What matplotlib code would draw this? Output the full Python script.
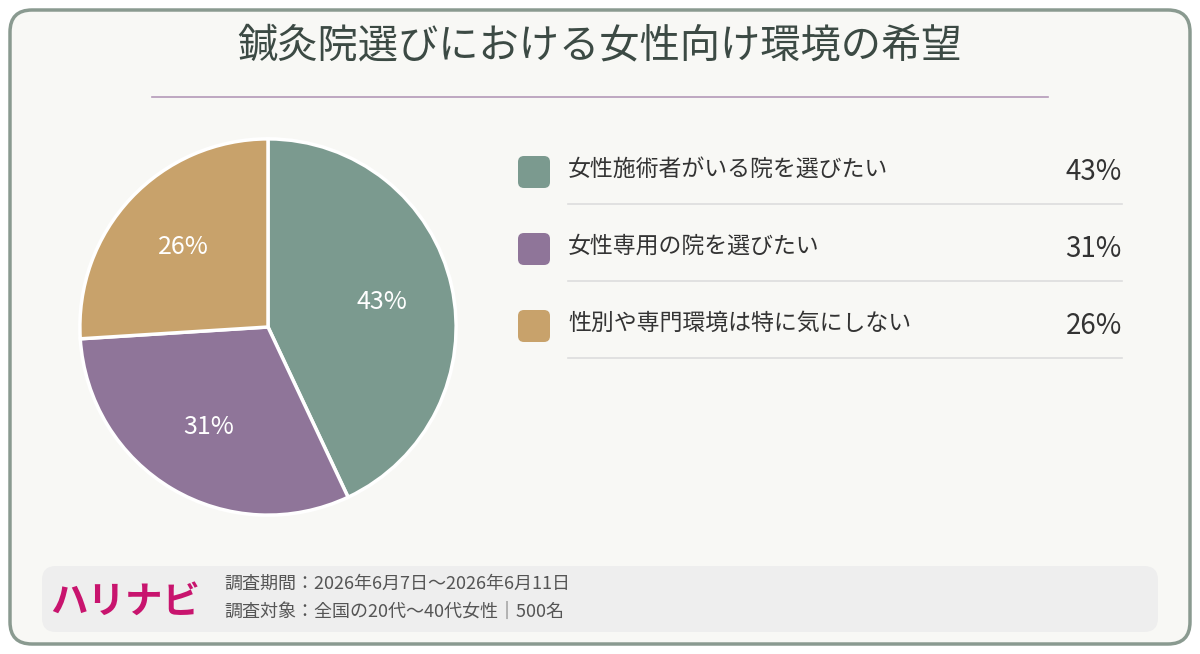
import matplotlib
matplotlib.use('Agg')
import matplotlib.pyplot as plt
import numpy as np
from matplotlib.patches import FancyBboxPatch

plt.rcParams['font.family'] = ['Noto Sans CJK JP', 'DejaVu Sans']

# ── data ──
title = '鍼灸院選びにおける女性向け環境の希望'
labels = ['女性施術者がいる院を選びたい', '女性専用の院を選びたい', '性別や専門環境は特に気にしない']
values = [43, 31, 26]
colors = ['#7b9a8f', '#8f7599', '#c8a26b']
footer_lines = ['調査期間：2026年6月7日～2026年6月11日', '調査対象：全国の20代～40代女性｜500名']
brand = 'ハリナビ'

W, H = 1200, 654
fig = plt.figure(figsize=(W / 100, H / 100), dpi=100)
fig.patch.set_facecolor('white')
bg = fig.add_axes([0, 0, 1, 1])
bg.set_xlim(0, W)
bg.set_ylim(H, 0)
bg.axis('off')

# card frame
bg.add_patch(FancyBboxPatch((10, 10), W - 20, H - 20, boxstyle='round,pad=0,rounding_size=22',
                            facecolor='#f8f8f5', edgecolor='#8a9a90', linewidth=2.5))
bg.text(W / 2, 46, title, ha='center', va='center', fontsize=29, color='#3c4a44')
bg.plot([152, 1048], [97, 97], color='#b49ab8', linewidth=1.2)

# legend rows
for i, (lab, v, c) in enumerate(zip(labels, values, colors)):
    y = 172 + i * 77
    bg.add_patch(FancyBboxPatch((518, y - 16), 32, 32, boxstyle='round,pad=0,rounding_size=6',
                                facecolor=c, edgecolor='none'))
    bg.text(568, y - 3, lab, ha='left', va='center', fontsize=16.5, color='#333333')
    bg.text(1122, y, f'{v}%', ha='right', va='center', fontsize=20, color='#333333')
    bg.plot([568, 1122], [y + 32, y + 32], color='#dddddd', linewidth=1.2)

# footer
bg.add_patch(FancyBboxPatch((42, 566), 1116, 66, boxstyle='round,pad=0,rounding_size=14',
                            facecolor='#eeeeee', edgecolor='none'))
bg.text(50, 601, brand, ha='left', va='center', fontsize=27, color='#c8146e', fontweight='bold')
bg.text(224, 584, footer_lines[0], ha='left', va='center', fontsize=13, color='#555555')
bg.text(224, 612, footer_lines[1], ha='left', va='center', fontsize=13, color='#555555')

# pie
cx, cy, r = 268, 327, 190
pax = fig.add_axes([(cx - r) / W, 1 - (cy + r) / H, 2 * r / W, 2 * r / H])
wedges, texts = pax.pie(values, colors=colors, startangle=90, counterclock=False,
                        wedgeprops=dict(edgecolor='white', linewidth=2.5))
for w, v in zip(wedges, values):
    ang = np.deg2rad((w.theta1 + w.theta2) / 2)
    pax.text(0.62 * np.cos(ang), 0.62 * np.sin(ang), f'{v}%', ha='center', va='center',
             fontsize=18, color='white')
pax.set_xlim(-1.01, 1.01)
pax.set_ylim(-1.01, 1.01)
pax.set_aspect('equal')

fig.savefig('out.png', dpi=100, facecolor='white')
